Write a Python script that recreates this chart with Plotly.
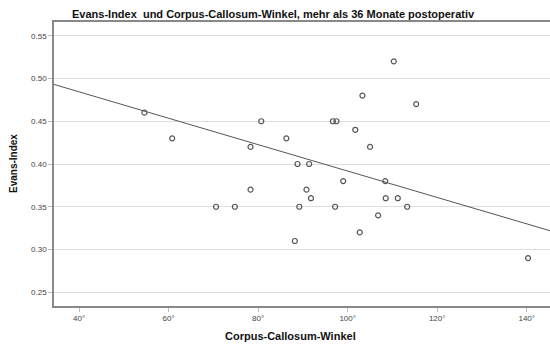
import numpy as np
import plotly.graph_objects as go

# Corpus-Callosum-Winkel (degrees) and Evans-Index
cc_angle = [54.6, 60.8, 78.3, 80.7, 110.3, 103.3, 115.3, 96.7, 97.5, 101.7,
            86.3, 105.0, 88.8, 91.4, 70.6, 74.8, 78.3, 90.8, 91.8, 89.2,
            97.2, 99.0, 108.4, 108.5, 111.2, 113.3, 106.8, 102.7, 88.2, 140.3]
evans = [0.46, 0.43, 0.42, 0.45, 0.52, 0.48, 0.47, 0.45, 0.45, 0.44,
         0.43, 0.42, 0.40, 0.40, 0.35, 0.35, 0.37, 0.37, 0.36, 0.35,
         0.35, 0.38, 0.38, 0.36, 0.36, 0.35, 0.34, 0.32, 0.31, 0.29]

# Reference line as drawn in the picture (angle, Evans-Index) at the plot edges
fit_line_x = [34.4, 145.2]
fit_line_y = [0.493, 0.322]

x_ticks = [40, 60, 80, 100, 120, 140]
x_tick_labels = ["40°", "60°", "80°", "100°", "120°", "140°"]
y_ticks = [0.25, 0.30, 0.35, 0.40, 0.45, 0.50, 0.55]
y_tick_labels = ["0.25", "0.30", "0.35", "0.40", "0.45", "0.50", "0.55"]

x_range = [34.4, 145.2]
y_range = [0.234, 0.566]

fig = go.Figure()
fig.add_trace(go.Scatter(
    x=fit_line_x, y=fit_line_y, mode="lines",
    line=dict(color="#555555", width=1), hoverinfo="skip", showlegend=False))
fig.add_trace(go.Scatter(
    x=cc_angle, y=evans, mode="markers",
    marker=dict(symbol="circle-open", size=5, color="#555555",
                line=dict(width=1.2, color="#555555")),
    showlegend=False))

font = "Liberation Sans, Arial, sans-serif"
fig.update_layout(
    width=550, height=346,
    margin=dict(l=54, r=0, t=22, b=40),
    paper_bgcolor="white", plot_bgcolor="white",
    font=dict(family=font, color="#333333"),
    xaxis=dict(range=x_range, tickvals=x_ticks, ticktext=x_tick_labels,
               showgrid=False, zeroline=False,
               showline=True, linecolor="#888888", linewidth=1.5, mirror=True,
               ticks="outside", ticklen=4, tickcolor="#bbbbbb",
               tickfont=dict(size=8, color="#444444", family=font)),
    yaxis=dict(range=y_range, tickvals=y_ticks, ticktext=y_tick_labels,
               showgrid=True, gridcolor="#dddddd", gridwidth=1.2, zeroline=False,
               showline=True, linecolor="#888888", linewidth=1.5,
               ticks="outside", ticklen=4, tickcolor="#bbbbbb",
               tickfont=dict(size=8, color="#444444", family=font)),
    annotations=[
        dict(text="<b>Evans-Index  und Corpus-Callosum-Winkel, mehr als 36 Monate postoperativ</b>",
             xref="paper", yref="paper", x=(273 - 54) / 496, y=1, yshift=0,
             xanchor="center", yanchor="bottom", showarrow=False,
             font=dict(size=11, color="#111111", family=font)),
        dict(text="<b>Corpus-Callosum-Winkel</b>",
             xref="paper", yref="paper", x=(290 - 54) / 496, y=0, yshift=-22,
             xanchor="center", yanchor="top", showarrow=False,
             font=dict(size=11, color="#111111", family=font)),
        dict(text="<b>Evans-Index</b>", textangle=-90,
             xref="paper", yref="paper", x=0, xshift=-41, y=(306 - 164) / 284,
             xanchor="center", yanchor="middle", showarrow=False,
             font=dict(size=10, color="#111111", family=font)),
    ],
)

fig.write_html("out.html")
